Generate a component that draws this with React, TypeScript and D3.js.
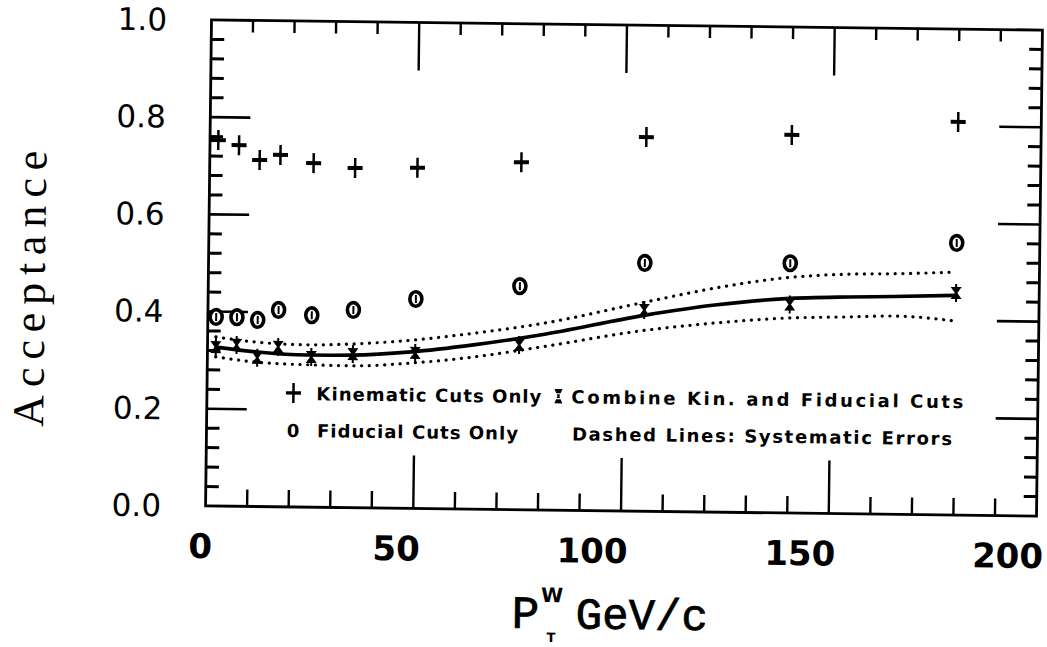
import React from 'react';
import * as d3 from 'd3';

// ---- data ----
const xBins = [2, 7, 12, 17, 25, 35, 50, 75, 105, 140, 180];
const kinematic = [0.753, 0.743, 0.713, 0.724, 0.708, 0.699, 0.701, 0.715, 0.770, 0.778, 0.809];
const fiducial = [0.389, 0.389, 0.384, 0.405, 0.395, 0.407, 0.431, 0.460, 0.511, 0.514, 0.560];
const combined = [0.327, 0.332, 0.306, 0.329, 0.309, 0.316, 0.320, 0.339, 0.414, 0.429, 0.457];

const fitX = [2, 12, 24, 35, 49, 64, 80, 105, 122, 139, 154, 165, 180];
const fitCentral = [0.327, 0.318, 0.313, 0.314, 0.322, 0.338, 0.360, 0.403, 0.426, 0.441, 0.446, 0.448, 0.452];
const fitUpper = [0.348, 0.338, 0.334, 0.337, 0.346, 0.362, 0.383, 0.430, 0.461, 0.484, 0.493, 0.495, 0.500];
const fitLower = [0.307, 0.297, 0.293, 0.292, 0.299, 0.313, 0.335, 0.372, 0.389, 0.401, 0.405, 0.408, 0.399];

const xTickLabels = [0, 50, 100, 150, 200];
const yTickLabels = [0, 0.2, 0.4, 0.6, 0.8, 1.0];

const legendKin = 'Kinematic Cuts Only';
const legendFid = 'Fiducial Cuts Only';
const legendComb = 'Combine Kin. and Fiducial Cuts';
const legendDash = 'Dashed Lines: Systematic Errors';

export default function App() {
  const W = 1047, H = 647;
  const left = 208.5, right = 1039.5, top = 25, bottom = 511;
  const x = d3.scaleLinear().domain([0, 200]).range([left, right]);
  const y = d3.scaleLinear().domain([0, 1]).range([bottom, top]);

  const xMinor = d3.range(10, 200, 10).filter((v) => v % 50 !== 0);
  const xMajor = [50, 100, 150];
  const yAll = d3.range(1, 25).map((i) => i);
  const line = d3
    .line<[number, number]>()
    .x((d) => x(d[0]))
    .y((d) => y(d[1]))
    .curve(d3.curveMonotoneX);
  const mk = (vals: number[]) => line(fitX.map((v, i) => [v, vals[i]] as [number, number])) || '';

  const ink = '#000';
  const sans = 'DejaVu Sans, sans-serif';

  const plus = (cx: number, cy: number, key: string, sw = 4) => (
    <g key={key} transform={`translate(${cx},${cy})`} stroke={ink}>
      <line x1={-7.5} x2={7.5} y1={0} y2={0} strokeWidth={sw} />
      <line x1={0} x2={0} y1={-10} y2={10} strokeWidth={2.5} />
    </g>
  );
  const fid = (cx: number, cy: number, key: string) => (
    <g key={key} transform={`translate(${cx},${cy})`} stroke={ink}>
      <ellipse rx={6} ry={7.3} fill="#fff" strokeWidth={3.6} />
      <line x1={0} x2={0} y1={-4} y2={4} strokeWidth={2} />
    </g>
  );
  const comb = (cx: number, cy: number, key: string) => (
    <g key={key} transform={`translate(${cx},${cy})`}>
      <path d="M-5.5,-6 L5.5,-6 L1.2,0 L5.5,6 L-5.5,6 L-1.2,0 Z" fill={ink} />
      <line x1={0} x2={0} y1={-9} y2={9} stroke={ink} strokeWidth={2} />
    </g>
  );

  return (
    <svg
      width={W}
      height={H}
      style={{ position: 'absolute', left: 0, top: 0, background: '#fff' }}
    >
      <rect width={W} height={H} fill="#fff" />
      <g transform="rotate(0.7 624 268)">
        {/* frame */}
        <rect x={left} y={top} width={right - left} height={bottom - top} fill="none" stroke={ink} strokeWidth={2.8} />

        {/* x ticks */}
        {xMinor.map((v) => (
          <g key={'xm' + v} stroke={ink} strokeWidth={2.4}>
            <line x1={x(v)} x2={x(v)} y1={top} y2={top + 12} />
            <line x1={x(v)} x2={x(v)} y1={bottom} y2={bottom - 17} />
          </g>
        ))}
        {xMajor.map((v) => (
          <g key={'xM' + v} stroke={ink} strokeWidth={2.4}>
            <line x1={x(v)} x2={x(v)} y1={top} y2={top + 48} />
            <line x1={x(v)} x2={x(v)} y1={bottom} y2={bottom - 53} />
          </g>
        ))}
        {/* y ticks */}
        {yAll.map((i) => {
          const v = i * 0.04;
          const major = i % 5 === 0;
          return (
            <g key={'y' + i} stroke={ink} strokeWidth={major ? 2.6 : 3}>
              <line x1={left} x2={left + (major ? 40 : 13)} y1={y(v)} y2={y(v)} />
              <line x1={right} x2={right - (major ? 42 : 13)} y1={y(v)} y2={y(v)} />
            </g>
          );
        })}

        {/* tick labels */}
        {xTickLabels.map((v) => (
          <text
            key={'xl' + v}
            x={x(v) + 7}
            y={bottom + 52}
            textAnchor="end"
            fontFamily={sans}
            fontWeight="bold"
            fontSize={34}
            fill={ink}
          >
            {String(v)}
          </text>
        ))}
        {yTickLabels.map((v) => (
          <text
            key={'yl' + v}
            x={164}
            y={y(v) + 11}
            textAnchor="end"
            fontFamily={sans}
            fontSize={31}
            fill={ink}
          >
            {v.toFixed(1)}
          </text>
        ))}

        {/* systematic error bands (dotted) */}
        <path d={mk(fitUpper)} fill="none" stroke={ink} strokeWidth={3.2} strokeDasharray="0.1 7.6" strokeLinecap="round" />
        <path d={mk(fitLower)} fill="none" stroke={ink} strokeWidth={3.2} strokeDasharray="0.1 7.6" strokeLinecap="round" />
        {/* central fit */}
        <path d={mk(fitCentral)} fill="none" stroke={ink} strokeWidth={3.6} />

        {/* data markers */}
        {xBins.map((v, i) => plus(x(v), y(kinematic[i]), 'k' + i))}
        {xBins.map((v, i) => fid(x(v), y(fiducial[i]), 'f' + i))}
        {xBins.map((v, i) => comb(x(v), y(combined[i]), 'c' + i))}

        {/* legend */}
        {plus(295, 397, 'lp', 3.4)}
        <text x={318} y={404} fontFamily={sans} fontWeight="bold" fontSize={18} fill={ink} textLength={225} lengthAdjust="spacing">
          {legendKin}
        </text>
        <text x={295} y={441} textAnchor="middle" fontFamily={sans} fontWeight="bold" fontSize={18} fill={ink}>
          0
        </text>
        <text x={319} y={441} fontFamily={sans} fontWeight="bold" fontSize={18} fill={ink} textLength={201} lengthAdjust="spacing">
          {legendFid}
        </text>
        <g transform="translate(560,397) scale(0.8)">
          <path d="M-5,-9 L5,-9 L1.2,0 L5,9 L-5,9 L-1.2,0 Z" fill={ink} />
          <line x1={-5} x2={5} y1={-3} y2={-3} stroke="#fff" strokeWidth={1.5} />
          <line x1={-5} x2={5} y1={3} y2={3} stroke="#fff" strokeWidth={1.5} />
        </g>
        <text x={573} y={404} fontFamily={sans} fontWeight="bold" fontSize={18} fill={ink} textLength={392} lengthAdjust="spacing">
          {legendComb}
        </text>
        <text x={574} y={441} fontFamily={sans} fontWeight="bold" fontSize={18} fill={ink} textLength={380} lengthAdjust="spacing">
          {legendDash}
        </text>

        {/* axis titles */}
        <text x={516} y={629} fontFamily="Liberation Mono, monospace" fontSize={46} fill={ink} stroke={ink} strokeWidth={0.8}>
          P
        </text>
        <text x={545} y={603} fontFamily={sans} fontWeight="bold" fontSize={20} fill={ink}>
          W
        </text>
        <text x={551} y={643} fontFamily={sans} fontWeight="bold" fontSize={13} fill={ink}>
          T
        </text>
        <text x={580} y={629} fontFamily="Liberation Mono, monospace" fontSize={44} fill={ink} stroke={ink} strokeWidth={0.8}>
          GeV/c
        </text>
        <text
          transform="translate(45,296) rotate(-90)"
          x={-138}
          fontFamily="Liberation Serif, serif"
          fontSize={44}
          textLength={276}
          lengthAdjust="spacing"
          fill={ink}
        >
          Acceptance
        </text>
      </g>
    </svg>
  );
}
